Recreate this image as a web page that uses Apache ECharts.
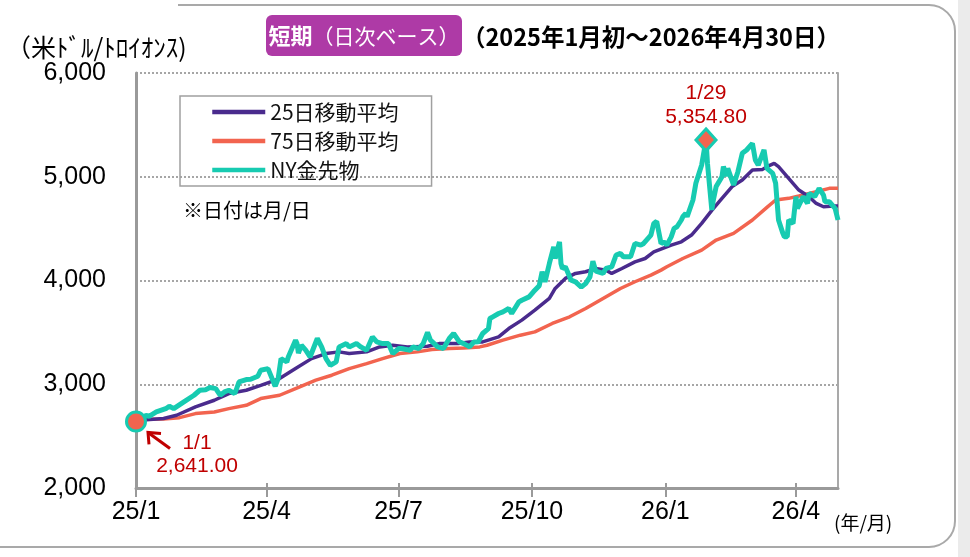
<!DOCTYPE html>
<html>
<head>
<meta charset="utf-8">
<script src="https://cdn.jsdelivr.net/npm/echarts@6/dist/echarts.min.js"></script>
<style>
html, body { margin: 0; padding: 0; background: #fff; }
#chart { width: 970px; height: 557px; }
</style>
</head>
<body>
<div id="chart"></div>
<script>
// 期間・目盛り
var xMin = '2025-01-01';
var xMax = '2026-04-30';
var tickDates = ['2025-01-01', '2025-04-01', '2025-07-01', '2025-10-01', '2026-01-01', '2026-04-01'];

// NY金先物（終値）
var goldDates = [
  '2025-01-01','2025-01-08','2025-01-10','2025-01-15','2025-01-22','2025-01-24','2025-01-27','2025-02-03',
  '2025-02-10','2025-02-14','2025-02-18','2025-02-21','2025-02-25','2025-02-28','2025-03-03','2025-03-06',
  '2025-03-10','2025-03-11','2025-03-13','2025-03-18','2025-03-21','2025-03-26','2025-03-28','2025-04-02',
  '2025-04-07','2025-04-09','2025-04-11','2025-04-15','2025-04-16','2025-04-21','2025-04-22','2025-04-23',
  '2025-04-25','2025-04-28','2025-05-01','2025-05-06','2025-05-09','2025-05-12','2025-05-15','2025-05-19',
  '2025-05-21','2025-05-26','2025-05-28','2025-06-02','2025-06-05','2025-06-09','2025-06-13','2025-06-16',
  '2025-06-20','2025-06-24','2025-06-27','2025-07-01','2025-07-03','2025-07-09','2025-07-11','2025-07-15',
  '2025-07-18','2025-07-21','2025-07-23','2025-07-28','2025-08-01','2025-08-05','2025-08-08','2025-08-12',
  '2025-08-15','2025-08-19','2025-08-22','2025-08-25','2025-08-28','2025-09-01','2025-09-02','2025-09-04',
  '2025-09-08','2025-09-11','2025-09-15','2025-09-17','2025-09-22','2025-09-24','2025-09-29','2025-10-02',
  '2025-10-06','2025-10-08','2025-10-10','2025-10-13','2025-10-16','2025-10-17','2025-10-20','2025-10-21',
  '2025-10-22','2025-10-24','2025-10-28','2025-10-31','2025-11-04','2025-11-07','2025-11-10','2025-11-12',
  '2025-11-14','2025-11-19','2025-11-21','2025-11-25','2025-11-28','2025-12-01','2025-12-03','2025-12-08',
  '2025-12-09','2025-12-11','2025-12-15','2025-12-17','2025-12-22','2025-12-24','2025-12-26','2025-12-29',
  '2025-12-31','2026-01-02','2026-01-05','2026-01-07','2026-01-09','2026-01-12','2026-01-13','2026-01-15',
  '2026-01-16','2026-01-20','2026-01-22','2026-01-26','2026-01-29','2026-01-30','2026-02-02','2026-02-03',
  '2026-02-05','2026-02-09','2026-02-10','2026-02-12','2026-02-13','2026-02-17','2026-02-20','2026-02-23',
  '2026-02-26','2026-03-02','2026-03-04','2026-03-06','2026-03-10','2026-03-12','2026-03-16','2026-03-18',
  '2026-03-20','2026-03-23','2026-03-24','2026-03-26','2026-03-27','2026-03-30','2026-04-01','2026-04-02',
  '2026-04-06','2026-04-09','2026-04-10','2026-04-14','2026-04-17','2026-04-20','2026-04-21','2026-04-24',
  '2026-04-28','2026-04-30'
];
var goldValues = [
  2641, 2700, 2690, 2733, 2768, 2788, 2765, 2830,
  2894, 2942, 2948, 2968, 2958, 2894, 2926, 2942,
  2910, 2942, 3022, 3045, 3048, 3077, 3135, 3151,
  2981, 3054, 3247, 3215, 3263, 3425, 3392, 3300,
  3376, 3328, 3263, 3441, 3360, 3247, 3183, 3215,
  3360, 3392, 3360, 3392, 3360, 3328, 3456, 3408,
  3392, 3392, 3296, 3344, 3344, 3328, 3360, 3344,
  3392, 3500, 3425, 3360, 3344, 3441, 3489, 3408,
  3392, 3360, 3408, 3410, 3489, 3537, 3634, 3650,
  3682, 3698, 3730, 3682, 3794, 3810, 3842, 3891,
  3950, 4084, 3987, 4164, 4325, 4212, 4373, 4164,
  4116, 4132, 4003, 3987, 3937, 3970, 4035, 4187,
  4090, 4068, 4116, 4132, 4245, 4261, 4229, 4229,
  4245, 4357, 4341, 4357, 4438, 4550, 4570, 4357,
  4373, 4341, 4420, 4502, 4518, 4583, 4615, 4647,
  4615, 4776, 4937, 5113, 5354.8, 5130, 4680, 4772,
  4905, 5001, 5098, 5007, 5081, 4921, 5049, 5226,
  5258, 5322, 5162, 5113, 5258, 5081, 5033, 4937,
  4583, 4454, 4421, 4421, 4583, 4550, 4808, 4695,
  4808, 4743, 4840, 4808, 4888, 4824, 4759, 4759,
  4695, 4583
];

// 25日移動平均
var ma25Dates = [
  '2025-01-01','2025-01-20','2025-01-29','2025-02-11','2025-02-24','2025-03-06','2025-03-18','2025-03-28',
  '2025-04-10','2025-04-21','2025-05-02','2025-05-12','2025-05-21','2025-05-28','2025-06-09','2025-06-18',
  '2025-06-27','2025-07-07','2025-07-21','2025-07-29','2025-08-11','2025-08-19','2025-08-28','2025-09-08',
  '2025-09-15','2025-09-24','2025-10-03','2025-10-13','2025-10-17','2025-10-24','2025-10-31','2025-11-07',
  '2025-11-14','2025-11-21','2025-11-25','2025-12-02','2025-12-11','2025-12-18','2025-12-24','2026-01-05',
  '2026-01-12','2026-01-19','2026-01-26','2026-02-02','2026-02-09','2026-02-16','2026-02-23','2026-03-02',
  '2026-03-09','2026-03-12','2026-03-17','2026-03-20','2026-03-27','2026-04-03','2026-04-10','2026-04-15',
  '2026-04-20','2026-04-27','2026-04-30'
];
var ma25Values = [
  2650, 2670, 2701, 2781, 2846, 2910, 2942, 2990,
  3055, 3151, 3247, 3296, 3312, 3296, 3312, 3360,
  3376, 3360, 3366, 3392, 3392, 3408, 3408, 3456,
  3537, 3618, 3714, 3827, 3923, 4020, 4068, 4084,
  4116, 4100, 4068, 4116, 4180, 4212, 4277, 4341,
  4373, 4438, 4551, 4676, 4792, 4905, 4969, 5065,
  5071, 5097, 5129, 5097, 4985, 4872, 4808, 4743,
  4711, 4717, 4717
];

// 75日移動平均
var ma75Dates = [
  '2025-01-01','2025-01-20','2025-01-31','2025-02-11','2025-02-24','2025-03-06','2025-03-18','2025-03-28',
  '2025-04-10','2025-04-21','2025-05-05','2025-05-16','2025-05-28','2025-06-09','2025-06-20','2025-07-02',
  '2025-07-14','2025-07-24','2025-08-05','2025-08-15','2025-08-26','2025-08-31','2025-09-11','2025-09-23',
  '2025-10-03','2025-10-15','2025-10-27','2025-11-07','2025-11-19','2025-12-01','2025-12-11','2025-12-22',
  '2025-12-29','2026-01-02','2026-01-13','2026-01-26','2026-02-05','2026-02-17','2026-03-02','2026-03-12',
  '2026-03-18','2026-03-27','2026-04-03','2026-04-15','2026-04-24','2026-04-30'
];
var ma75Values = [
  2660, 2665, 2678, 2717, 2733, 2765, 2797, 2862,
  2894, 2958, 3039, 3087, 3151, 3199, 3247, 3296,
  3312, 3335, 3345, 3350, 3360, 3376, 3425, 3473,
  3505, 3586, 3650, 3730, 3827, 3923, 3988, 4052,
  4100, 4132, 4212, 4293, 4390, 4454, 4583, 4705,
  4776, 4792, 4815, 4856, 4888, 4888
];

// 注記
var startPoint = ['2025-01-01', 2641];
var peakPoint = ['2026-01-29', 5354.8];
var startText = '1/1\n2,641.00';
var peakText = '1/29\n5,354.80';

function ts(s) {
  var p = s.split('-');
  return new Date(+p[0], +p[1] - 1, +p[2]).getTime();
}
function pairs(dates, values) {
  return dates.map(function (d, i) { return [ts(d), values[i]]; });
}

var cGold = '#17cbb1';
var c25 = '#4a2b8d';
var c75 = '#f2644f';
var cRed = '#c00000';
var axisFont = "'Liberation Sans Narrow', 'Liberation Sans', Arial, sans-serif";
var jpFont = "'Noto Sans CJK JP', sans-serif";
var tickTs = tickDates.map(ts);

var chart = echarts.init(document.getElementById('chart'));
chart.setOption({
  animation: false,
  grid: { left: 136, right: 132, top: 73, bottom: 69 },
  legend: {
    data: ['25日移動平均', '75日移動平均', 'NY金先物'],
    orient: 'vertical',
    left: 180,
    top: 96,
    padding: [5, 33, 5, 30],
    itemWidth: 53,
    itemHeight: 14,
    itemGap: 7,
    borderColor: '#a0a0a0',
    borderWidth: 1.5,
    itemStyle: { opacity: 0 },
    lineStyle: { width: 4.5 },
    textStyle: { fontSize: 21, lineHeight: 22, color: '#111', fontFamily: jpFont }
  },
  xAxis: [{
    type: 'value',
    min: ts(xMin),
    max: ts(xMax),
    axisLine: { lineStyle: { color: '#9a9a9a', width: 3 } },
    axisTick: { show: true, length: 9, customValues: tickTs, lineStyle: { color: '#9a9a9a', width: 2 } },
    axisLabel: {
      customValues: tickTs,
      margin: 12,
      fontSize: 25,
      color: '#000',
      fontFamily: axisFont,
      formatter: function (v) {
        var d = new Date(v);
        return String(d.getFullYear()).slice(2) + '/' + (d.getMonth() + 1);
      }
    },
    splitLine: { show: false }
  }, {
    type: 'value',
    min: ts(xMin),
    max: ts(xMax),
    position: 'bottom',
    axisLine: { show: false },
    axisTick: { show: true, inside: true, length: 5, customValues: tickTs, lineStyle: { color: '#9a9a9a', width: 2 } },
    axisLabel: { show: false },
    splitLine: { show: false }
  }],
  yAxis: [{
    type: 'value',
    min: 2000,
    max: 6000,
    interval: 1000,
    axisLine: { show: true, lineStyle: { color: '#9a9a9a', width: 3 } },
    axisTick: { show: false },
    axisLabel: {
      margin: 30,
      fontSize: 25,
      color: '#000',
      fontFamily: axisFont,
      formatter: function (v) { return v.toLocaleString('en-US'); }
    },
    splitLine: { lineStyle: { color: '#a6a6a6', width: 2, type: [2, 2] } }
  }, {
    type: 'value',
    min: 2000,
    max: 6000,
    position: 'right',
    axisLine: { show: true, lineStyle: { color: '#a9a9a9', width: 2 } },
    axisTick: { show: false },
    axisLabel: { show: false },
    splitLine: { show: false }
  }],
  series: [{
    name: '75日移動平均',
    type: 'line',
    data: pairs(ma75Dates, ma75Values),
    symbol: 'none',
    lineStyle: { color: c75, width: 3.5 },
    itemStyle: { color: c75 }
  }, {
    name: '25日移動平均',
    type: 'line',
    data: pairs(ma25Dates, ma25Values),
    symbol: 'none',
    lineStyle: { color: c25, width: 3.5 },
    itemStyle: { color: c25 }
  }, {
    name: 'NY金先物',
    type: 'line',
    data: pairs(goldDates, goldValues),
    symbol: 'none',
    lineStyle: { color: cGold, width: 5 },
    itemStyle: { color: cGold },
    markPoint: {
      data: [{
        coord: [ts(startPoint[0]), startPoint[1]],
        symbol: 'circle',
        symbolSize: 19,
        itemStyle: { color: c75, borderColor: cGold, borderWidth: 3 },
        label: {
          show: true, position: 'inside', offset: [61, 33], formatter: startText,
          color: cRed, fontSize: 21, lineHeight: 23, fontFamily: "'Liberation Sans', Arial, sans-serif"
        }
      }, {
        coord: [ts(peakPoint[0]), peakPoint[1]],
        symbol: 'diamond',
        symbolSize: [20, 22],
        itemStyle: { color: c75, borderColor: cGold, borderWidth: 3 },
        label: {
          show: true, position: 'inside', offset: [0, -35], formatter: peakText,
          color: cRed, fontSize: 21, lineHeight: 24, fontFamily: "'Liberation Sans', Arial, sans-serif"
        }
      }]
    }
  }]
});

var p = chart.convertToPixel({ gridIndex: 0 }, [ts(startPoint[0]), startPoint[1]]);
chart.setOption({
  graphic: [
    { type: 'rect', shape: { x: -40, y: 5, width: 995, height: 542, r: 26 },
      style: { fill: 'none', stroke: '#a9a9a9', lineWidth: 2 }, z: 100 },
    { type: 'rect', shape: { x: 0, y: 0, width: 178, height: 14 }, style: { fill: '#fff' }, z: 101 },
    { type: 'rect', shape: { x: 958, y: 0, width: 12, height: 557 }, style: { fill: '#ebebeb' }, z: 101 },
    { type: 'rect', shape: { x: 266, y: 15, width: 196, height: 41, r: 6 }, style: { fill: '#ae3aa6' }, z: 100 },
    { type: 'text', x: 364, y: 36, z: 102,
      style: {
        text: '{b|短期}{n|（日次ベース）}', align: 'center', verticalAlign: 'middle', fill: '#fff',
        rich: {
          b: { fontSize: 22, fontWeight: 'bold', fill: '#fff', fontFamily: jpFont },
          n: { fontSize: 21, fill: '#fff', fontFamily: jpFont }
        }
      } },
    { type: 'text', x: 462, y: 37, z: 102,
      style: { text: '（2025年1月初～2026年4月30日）', fontSize: 23.5, fontWeight: 'bold', fill: '#000',
        fontFamily: jpFont, verticalAlign: 'middle' } },
    { type: 'text', x: 6, y: 47, z: 102,
      style: { text: '（米ﾄﾞﾙ/ﾄﾛｲｵﾝｽ)', fontSize: 25, fill: '#000', fontFamily: jpFont, verticalAlign: 'middle' } },
    { type: 'text', x: 183, y: 210, z: 102,
      style: { text: '※日付は月/日', fontSize: 20, fill: '#000', fontFamily: jpFont, verticalAlign: 'middle' } },
    { type: 'text', x: 834, y: 523, z: 102,
      style: { text: '(年/月)', fontSize: 19, fill: '#000', fontFamily: jpFont, verticalAlign: 'middle' } },
    { type: 'polyline', z: 102,
      shape: { points: [[p[0] + 34, p[1] + 27], [p[0] + 12, p[1] + 11]] },
      style: { stroke: cRed, lineWidth: 3, fill: 'none' } },
    { type: 'polyline', z: 102,
      shape: { points: [[p[0] + 13, p[1] + 23], [p[0] + 12, p[1] + 11], [p[0] + 25, p[1] + 12]] },
      style: { stroke: cRed, lineWidth: 3, fill: 'none' } }
  ]
});
</script>
</body>
</html>
